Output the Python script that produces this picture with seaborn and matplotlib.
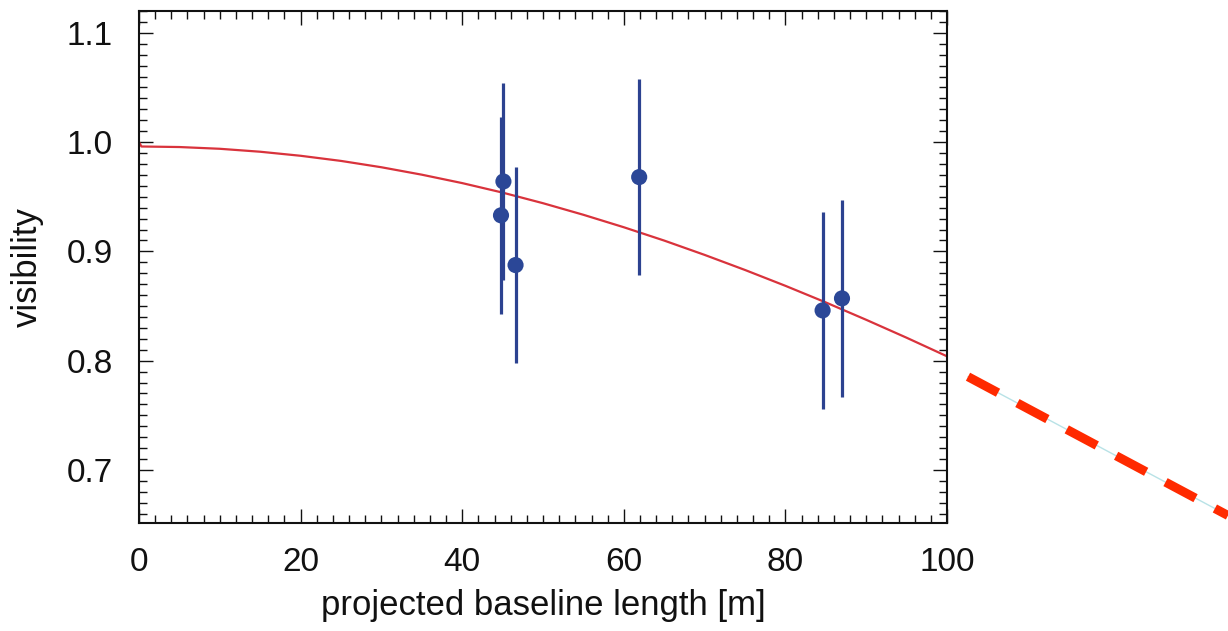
import matplotlib
matplotlib.use("Agg")
import matplotlib.pyplot as plt
from matplotlib.lines import Line2D
from matplotlib.ticker import MultipleLocator
import seaborn as sns
import pandas as pd

# ---- data ----
baseline = [44.8, 45.1, 46.6, 61.9, 84.6, 87.0]
visibility = [0.933, 0.964, 0.8875, 0.968, 0.846, 0.857]
vis_err = [0.09, 0.09, 0.09, 0.09, 0.09, 0.09]

fit_x = [0, 0.3, 5, 10, 15, 20, 25, 30, 35, 40, 45, 50, 55, 60, 65, 70, 75, 80, 85, 90, 95, 100]
fit_y = [1.0, 0.996, 0.9955, 0.9939, 0.9912, 0.9875, 0.9828, 0.9770, 0.9702, 0.9625, 0.9538,
         0.9441, 0.9335, 0.9221, 0.9099, 0.8968, 0.8830, 0.8685, 0.8533, 0.8374, 0.8210, 0.804]

x_ticks = [0, 20, 40, 60, 80, 100]
y_ticks = [0.7, 0.8, 0.9, 1.0, 1.1]

sns.set_theme(style="white")
plt.rcParams['font.family'] = ['Liberation Sans', 'DejaVu Sans']

fig = plt.figure(figsize=(12.28, 6.31), dpi=100)
ax = fig.add_axes([0.1132, 0.1712, 0.658, 0.8114])

pts = pd.DataFrame({"x": baseline, "y": visibility})
fit = pd.DataFrame({"x": fit_x, "y": fit_y})

sns.lineplot(data=fit, x="x", y="y", ax=ax, color="#d9333c", linewidth=1.6, sort=False, zorder=2)
ax.errorbar(baseline, visibility, yerr=vis_err, fmt="none", ecolor="#2c4290", elinewidth=2.3,
            capsize=0, zorder=3)
sns.scatterplot(data=pts, x="x", y="y", ax=ax, color="#2b4797", s=135, edgecolor="none", zorder=4)

ax.set_xlim(0, 100)
ax.set_ylim(0.6515, 1.12)
ax.set_xticks(x_ticks)
ax.set_yticks(y_ticks)
ax.set_xticklabels([str(t) for t in x_ticks])
ax.set_yticklabels([f"{t:.1f}" for t in y_ticks])
ax.xaxis.set_minor_locator(MultipleLocator(2))
ax.yaxis.set_minor_locator(MultipleLocator(0.01))
ax.tick_params(which="both", direction="in", top=True, right=True, bottom=True, left=True,
               color="#111111", width=1.0)
ax.tick_params(which="major", length=10)
ax.tick_params(which="minor", length=6)
ax.tick_params(axis="x", which="major", labelsize=24, pad=17, labelcolor="#111111")
ax.tick_params(axis="y", which="major", labelsize=24, pad=19, labelcolor="#111111")
for s in ax.spines.values():
    s.set_visible(True)
    s.set_color("#111111")
    s.set_linewidth(1.5)

ax.set_xlabel("projected baseline length [m]", fontsize=25, color="#111111", labelpad=8)
ax.set_ylabel("visibility", fontsize=25, color="#111111", labelpad=16)

# dashed red line outside the axes (figure pixels)
W, H = 1228, 631
xs = [968 / W, 1228 / W]
ys = [1 - 376.7 / H, 1 - 515.5 / H]
fig.add_artist(Line2D(xs, ys, transform=fig.transFigure, color="#b8e2e6", linewidth=1.0))
fig.add_artist(Line2D(xs, ys, transform=fig.transFigure, color="#ff2a00", linewidth=6.5,
                      linestyle=(0, (3.77, 2.43)), solid_capstyle="butt", dash_capstyle="butt"))

fig.savefig("out.png", dpi=100)
